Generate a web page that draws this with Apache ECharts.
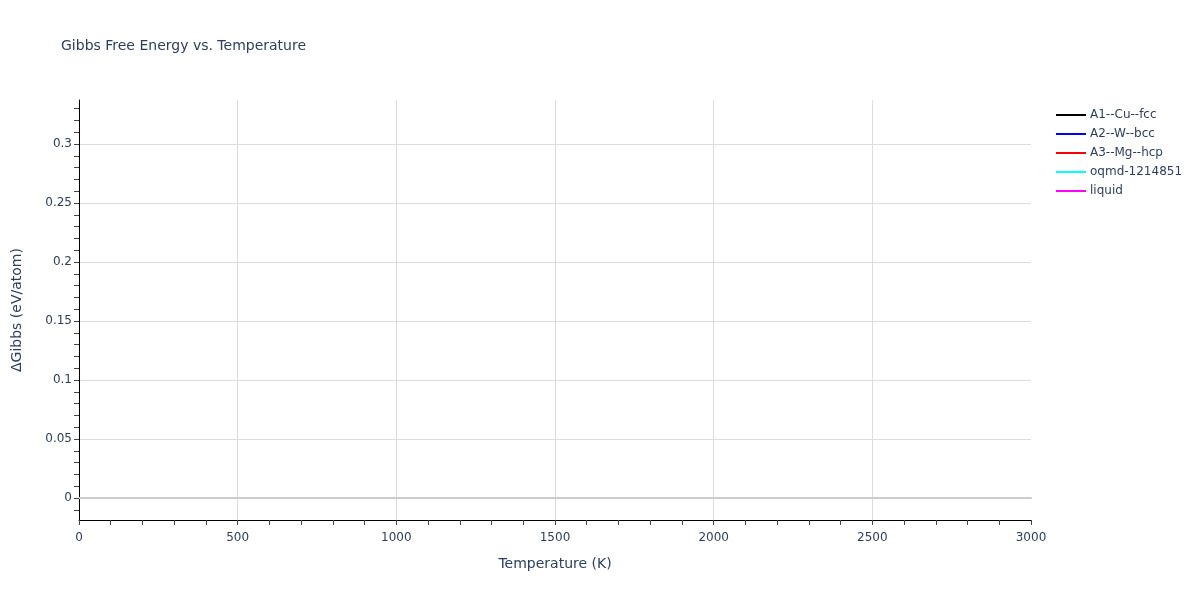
<!DOCTYPE html>
<html>
<head>
<meta charset="utf-8">
<script src="https://cdn.jsdelivr.net/npm/echarts@6/dist/echarts.min.js"></script>
<style>html,body{margin:0;padding:0;background:#fff}#c{width:1200px;height:600px}</style>
</head>
<body>
<div id="c"></div>
<script>
// Data (the reference shows no visible curves inside the plotted range)
const seriesNames = ['A1--Cu--fcc', 'A2--W--bcc', 'A3--Mg--hcp', 'oqmd-1214851', 'liquid'];
const temperatureK = [];
const gibbsCu = [];
const gibbsW = [];
const gibbsMg = [];
const gibbsOqmd = [];
const gibbsLiquid = [];
const xTicks = [0, 500, 1000, 1500, 2000, 2500, 3000];
const yTicks = [0, 0.05, 0.1, 0.15, 0.2, 0.25, 0.3];

const seriesValues = [gibbsCu, gibbsW, gibbsMg, gibbsOqmd, gibbsLiquid];
const colors = ['#000000', '#0000ff', '#ff0000', '#00ffff', '#ff00ff'];
const txt = '#2a3f5f';
const font = 'Verdana, "DejaVu Sans", sans-serif';

const chart = echarts.init(document.getElementById('c'), null, {renderer: 'canvas'});
chart.setOption({
  backgroundColor: '#ffffff',
  animation: false,
  textStyle: {fontFamily: font, color: txt},
  title: {
    text: 'Gibbs Free Energy vs. Temperature',
    left: 61, top: 39, padding: 0,
    textStyle: {fontFamily: font, fontSize: 14, fontWeight: 'normal', color: txt}
  },
  legend: {
    orient: 'vertical', left: 1056, top: 108, padding: 0,
    itemWidth: 30, itemHeight: 2, itemGap: 5,
    icon: 'rect',
    textStyle: {fontFamily: font, fontSize: 12, color: txt, lineHeight: 14, padding: [0,0,0,-1]},
    data: seriesNames
  },
  grid: [
    {left: 79, right: 169, top: 100, bottom: 80, containLabel: false},
    {left: 79, right: 169, top: 108.6, bottom: 90.2, containLabel: false}
  ],
  xAxis: [
    {
      type: 'value', gridIndex: 0, min: xTicks[0], max: xTicks[xTicks.length-1], interval: 500,
      name: 'Temperature (K)', nameLocation: 'middle', nameGap: 37,
      nameTextStyle: {fontFamily: font, fontSize: 14, color: txt},
      axisLine: {show: true, onZero: false, lineStyle: {color: '#000', width: 1}},
      axisTick: {show: true, length: 5, lineStyle: {color: '#444'}},
      minorTick: {show: true, splitNumber: 5, length: 5, lineStyle: {color: '#444'}},
      axisLabel: {fontFamily: font, fontSize: 12, color: txt, margin: 12, formatter: v => String(v)},
      splitLine: {show: true, showMinLine: false, showMaxLine: false, lineStyle: {color: '#dddddd', width: 1}}
    },
    {
      type: 'value', gridIndex: 0, min: xTicks[0], max: xTicks[xTicks.length-1],
      position: 'bottom',
      axisLine: {show: true, onZero: true, onZeroAxisIndex: 0, lineStyle: {color: '#cccccc', width: 2}},
      axisTick: {show: false}, axisLabel: {show: false}, splitLine: {show: false}
    },
    {
      type: 'value', gridIndex: 1, min: 0, max: 3000, show: false
    }
  ],
  yAxis: [
    {
      type: 'value', gridIndex: 0, min: -0.0186, max: 0.3373, splitNumber: 7,
      name: 'ΔGibbs (eV/atom)', nameLocation: 'middle', nameGap: 55,
      nameTextStyle: {fontFamily: font, fontSize: 14, color: txt},
      axisLine: {show: true, lineStyle: {color: '#000', width: 1}},
      axisTick: {show: false},
      axisLabel: {fontFamily: font, fontSize: 12, color: txt, margin: 7, padding: [3,0,0,0], showMinLabel: false, showMaxLabel: false,
        formatter: v => (yTicks.some(t => Math.abs(t - v) < 1e-9) ? String(+v.toFixed(2)) : '')},
      splitLine: {show: true, showMinLine: false, showMaxLine: false, lineStyle: {color: '#dddddd', width: 1}}
    },
    {
      type: 'value', gridIndex: 1, min: -0.01, max: 0.33, interval: 0.01,
      axisLine: {show: false},
      axisTick: {show: true, length: 5, lineStyle: {color: '#444'}},
      axisLabel: {show: false},
      splitLine: {show: false}
    }
  ],
  series: seriesNames.map((name, i) => ({
    name: name,
    type: 'line',
    xAxisIndex: 0, yAxisIndex: 0,
    showSymbol: false, symbol: 'none',
    color: colors[i],
    lineStyle: {color: colors[i], width: 2},
    data: temperatureK.map((t, k) => [t, seriesValues[i][k]])
  }))
});
</script>
</body>
</html>
